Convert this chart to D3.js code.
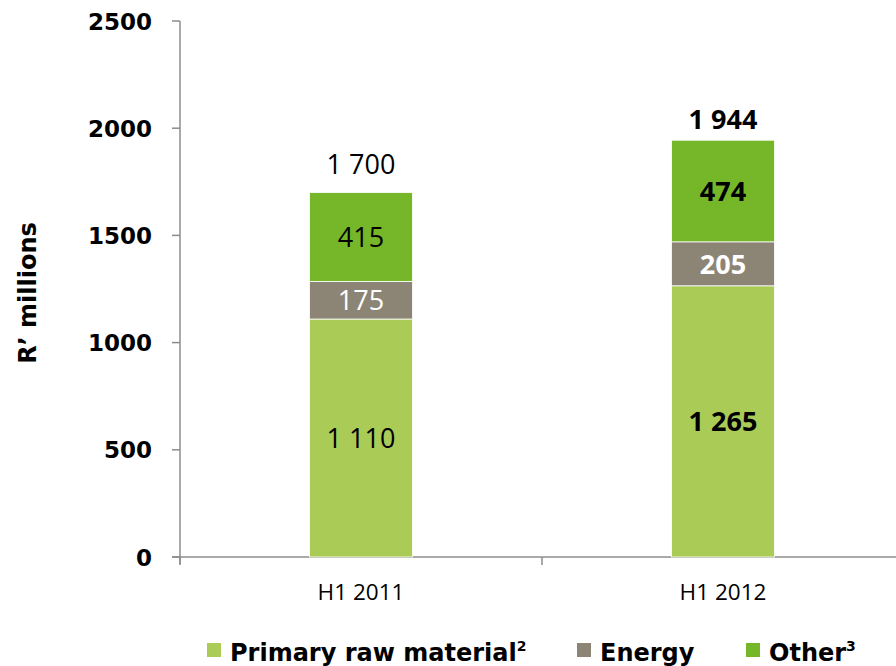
<!DOCTYPE html>
<html>
<head>
<meta charset="utf-8">
<script src="https://cdn.jsdelivr.net/npm/d3@7"></script>
<style>
  body { margin: 0; background: #fff; }
  text { font-family: "Open Sans", "Noto Sans", sans-serif; }
  .wide { font-family: "DejaVu Sans", sans-serif; font-weight: bold; }
</style>
</head>
<body>
<script>
var categories = ['H1 2011', 'H1 2012'];
var seriesNames = ['Primary raw material', 'Energy', 'Other'];
var seriesSup = ['2', '', '3'];
var primary = [1110, 1265];
var energy = [175, 205];
var other = [415, 474];
var totals = [1700, 1944];
var yTicks = [0, 500, 1000, 1500, 2000, 2500];
var colors = ['#abcb57', '#8c8576', '#76b72a'];
var labelColors = ['#000', '#fff', '#000'];
var boldBar = [false, true];
var totalGap = [28, 21];

var width = 896, height = 666;
var svg = d3.select('body').append('svg')
  .attr('width', width)
  .attr('height', height);

var x = d3.scaleBand().domain(categories).range([180, 904]);
var y = d3.scaleLinear().domain([0, 2500]).range([557, 21]);
var barW = 103;
var fmt = function (v) { return d3.format(',')(v).replace(',', ' '); };

var series = [primary, energy, other];
var rows = categories.map(function (c, i) {
  return { cat: c, primary: primary[i], energy: energy[i], other: other[i] };
});
var stack = d3.stack().keys(['primary', 'energy', 'other'])(rows);

// axes
svg.append('line')
  .attr('x1', 180).attr('x2', 180)
  .attr('y1', y(2500)).attr('y2', y(0) + 7)
  .attr('stroke', '#8c8c8c').attr('stroke-width', 1.5);
svg.append('line')
  .attr('x1', 172).attr('x2', 896)
  .attr('y1', y(0)).attr('y2', y(0))
  .attr('stroke', '#8c8c8c').attr('stroke-width', 1.5);

svg.selectAll('.ytick')
  .data(yTicks).enter().append('line')
  .attr('x1', 172).attr('x2', 180)
  .attr('y1', function (d) { return y(d); })
  .attr('y2', function (d) { return y(d); })
  .attr('stroke', '#8c8c8c').attr('stroke-width', 1.5);

svg.selectAll('.ylabel')
  .data(yTicks).enter().append('text')
  .attr('class', 'wide')
  .attr('x', 152)
  .attr('y', function (d) { return y(d); })
  .attr('dy', '0.37em')
  .attr('text-anchor', 'end')
  .attr('font-size', 23)
  .text(function (d) { return d; });

// category ticks on band boundaries
svg.selectAll('.xtick')
  .data([180, 180 + x.bandwidth()]).enter().append('line')
  .attr('x1', function (d) { return d; })
  .attr('x2', function (d) { return d; })
  .attr('y1', y(0)).attr('y2', y(0) + 8)
  .attr('stroke', '#8c8c8c').attr('stroke-width', 1.5);

svg.selectAll('.xlabel')
  .data(categories).enter().append('text')
  .attr('x', function (d) { return x(d) + x.bandwidth() / 2; })
  .attr('y', 600)
  .attr('text-anchor', 'middle')
  .attr('font-size', 22.5)
  .text(function (d) { return d; });

svg.append('text')
  .attr('class', 'wide')
  .attr('transform', 'translate(36,293) rotate(-90)')
  .attr('text-anchor', 'middle')
  .attr('font-size', 24)
  .text('R\u2019 millions');

// bars
stack.forEach(function (layer, k) {
  svg.selectAll('.seg' + k)
    .data(layer).enter().append('rect')
    .attr('x', function (d, i) { return x(categories[i]) + x.bandwidth() / 2 - barW / 2; })
    .attr('y', function (d) { return y(d[1]); })
    .attr('width', barW)
    .attr('height', function (d) { return y(d[0]) - y(d[1]); })
    .attr('fill', colors[k])
    .attr('stroke', '#fff')
    .attr('stroke-width', 0.8);

  svg.selectAll('.lab' + k)
    .data(layer).enter().append('text')
    .attr('x', function (d, i) { return x(categories[i]) + x.bandwidth() / 2; })
    .attr('y', function (d) { return (y(d[0]) + y(d[1])) / 2; })
    .attr('dy', '0.36em')
    .attr('text-anchor', 'middle')
    .attr('font-size', 27)
    .attr('font-weight', function (d, i) { return boldBar[i] ? 'bold' : 'normal'; })
    .attr('fill', labelColors[k])
    .text(function (d, i) { return fmt(series[k][i]); });
});

svg.selectAll('.total')
  .data(totals).enter().append('text')
  .attr('x', function (d, i) { return x(categories[i]) + x.bandwidth() / 2; })
  .attr('y', function (d, i) { return y(d) - totalGap[i]; })
  .attr('dy', '0.36em')
  .attr('text-anchor', 'middle')
  .attr('font-size', 27)
  .attr('font-weight', function (d, i) { return boldBar[i] ? 'bold' : 'normal'; })
  .text(fmt);

// legend
var legX = [207, 577, 746];
var leg = svg.selectAll('.leg')
  .data(seriesNames).enter().append('g')
  .attr('transform', function (d, i) { return 'translate(' + legX[i] + ',643)'; });
leg.append('rect')
  .attr('width', 14).attr('height', 14)
  .attr('fill', function (d, i) { return colors[i]; });
var lt = leg.append('text')
  .attr('class', 'wide')
  .attr('x', 23).attr('y', 18)
  .attr('font-size', 24);
lt.append('tspan').text(function (d) { return d; });
lt.append('tspan')
  .attr('font-size', 14)
  .attr('dy', '-0.75em')
  .text(function (d, i) { return seriesSup[i]; });
</script>
</body>
</html>
